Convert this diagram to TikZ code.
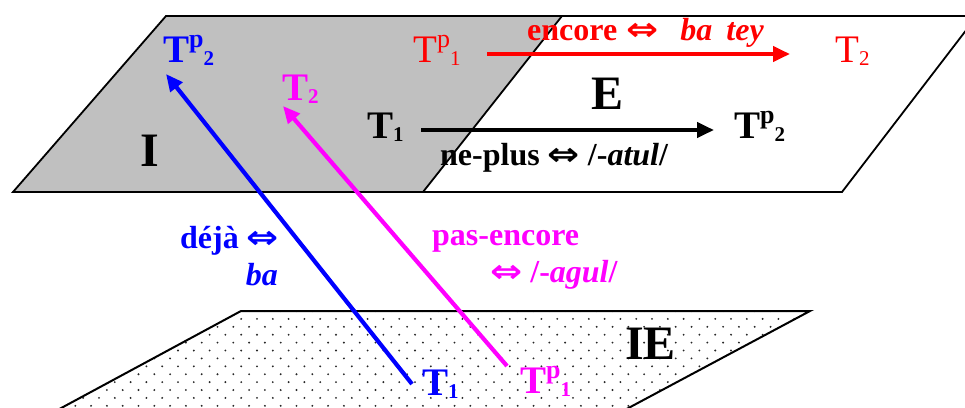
\documentclass[tikz,border=0pt]{standalone}
\usepackage{fontspec}
\setmainfont{Liberation Serif}
\newfontfamily\arrowfont{DejaVu Sans}
\usetikzlibrary{arrows.meta}
\definecolor{planegray}{RGB}{192,192,192}
\definecolor{dotgray}{RGB}{40,40,40}
\definecolor{pblue}{RGB}{0,0,255}
\definecolor{pred}{RGB}{255,0,0}
\definecolor{pmag}{RGB}{255,0,255}
\newcommand{\Tsp}[2]{T\raisebox{15pt}{\fontsize{26}{26}\selectfont #1}\raisebox{-3pt}{\fontsize{21}{21}\selectfont #2}}
\newcommand{\Tsb}[1]{T\raisebox{-3pt}{\fontsize{21}{21}\selectfont #1}}
\newcommand{\dblarr}{{\arrowfont\scalebox{1.2}[1]{⇔}}}
\begin{document}
\begin{tikzpicture}[x=1pt,y=-1pt,
  tlab/.style={inner sep=0pt,anchor=base west,font=\fontsize{39}{40}\selectfont\bfseries},
  biglab/.style={inner sep=0pt,anchor=base west,font=\fontsize{48}{48}\selectfont\bfseries},
  txtlab/.style={inner sep=0pt,anchor=base west,font=\fontsize{32}{34}\selectfont\bfseries},
  conn/.style={line width=4.2pt,-{Triangle[length=17pt,width=15pt]}},
  plane/.style={line width=1.8pt,line join=miter}]
\clip (0,0) rectangle (965,407);
\useasboundingbox (0,0) rectangle (965,407);
% upper plane
\fill[planegray] (166,16) -- (562,16) -- (423,192) -- (13,192) -- cycle;
\fill[white] (562,16) -- (977,16) -- (842,192) -- (423,192) -- cycle;
\draw[plane] (166,16) -- (977,16) -- (842,192) -- (13,192) -- cycle;
\draw[plane] (562,16) -- (423,192);
% lower plane
\begin{scope}
\clip (241,311) -- (810,311) -- (606,420) -- (39,420) -- cycle;
\foreach \j in {0,...,13}{
  \foreach \k in {0,...,49}{
    \pgfmathsetmacro{\xx}{43.7+7.9*mod(\j,2)+15.8*\k}
    \fill[dotgray] (\xx,311+7.9*\j) circle (1.05pt);
  }
}
\end{scope}
\draw[plane,line width=2pt] (39,420) -- (241,311) -- (810,311) -- (606,420);
% labels
\node[biglab] (lI) at (140,166) {I};
\node[biglab] (lE) at (591,109) {E};
\node[biglab] (lIE) at (625,359) {IE};
\node[tlab,pblue] (tp2b) at (163,62) {\Tsp{p}{2}};
\node[tlab,pmag] (t2m) at (282,100) {\Tsb{2}};
\node[tlab,pred,font=\fontsize{39}{40}\selectfont\mdseries] (tp1r) at (413,62) {\Tsp{p}{1}};
\node[tlab,pred,font=\fontsize{39}{40}\selectfont\mdseries] (t2r) at (835,62) {\Tsb{2}};
\node[tlab] (t1k) at (367,138) {\Tsb{1}};
\node[tlab] (tp2k) at (734,138) {\Tsp{p}{2}};
\node[tlab,pblue] (t1b) at (422,395) {\Tsb{1}};
\node[tlab,pmag] (tp1m) at (520,393) {\Tsp{p}{1}};
\node[txtlab,pred] (encore) at (527,40) {encore\hspace{9pt}\dblarr\hspace{22pt}\textit{ba}\hspace{14pt}\textit{tey}};
\node[txtlab] (neplus) at (440,165) {ne-plus \dblarr{} /-\textit{atul}/};
\node[txtlab,pblue] (deja) at (180,248) {déjà \dblarr};
\node[txtlab,pblue,anchor=base east] (ba) at (278,285) {\textit{ba}};
\node[txtlab,pmag] (pas) at (432,245) {pas-encore};
\node[txtlab,pmag] (agul) at (490,282) {\dblarr{} /-\textit{agul}/};
% connectors
\coordinate (b0) at (412,384);
\coordinate (b1) at (166,74);
\coordinate (m0) at (507,366);
\coordinate (m1) at (283,106);
\coordinate (r0) at (487,54);
\coordinate (r1) at (790,54);
\coordinate (k0) at (421,130);
\coordinate (k1) at (714,130);
\draw[conn,pred] (r0) -- (r1);
\draw[conn,black] (k0) -- (k1);
\draw[conn,pblue] (b0) -- (b1);
\draw[conn,pmag] (m0) -- (m1);
\end{tikzpicture}
\end{document}
